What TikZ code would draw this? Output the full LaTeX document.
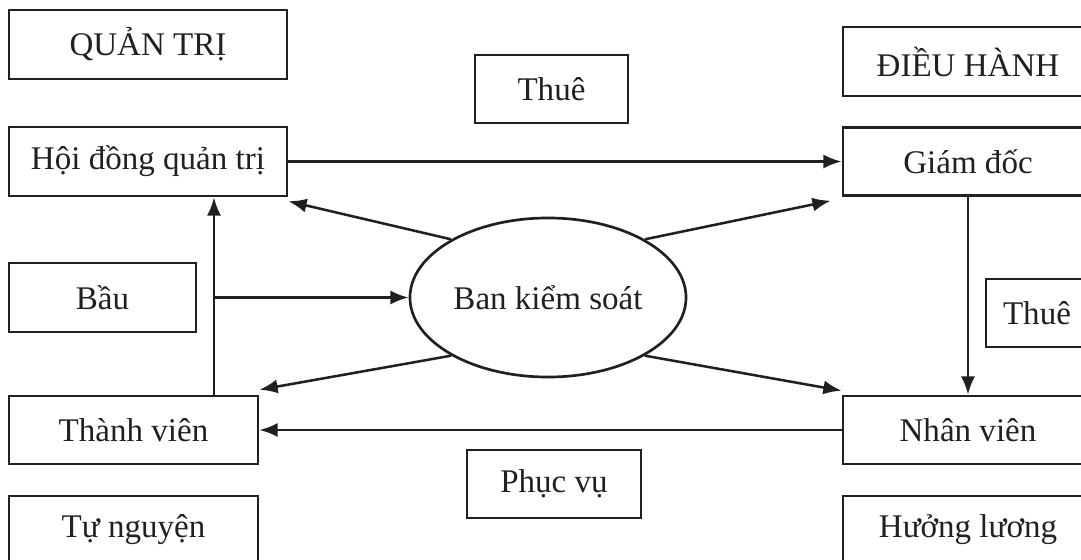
\documentclass[tikz,border=0pt]{standalone}
\usepackage{fontspec}
\setmainfont{Liberation Serif}
\usetikzlibrary{shapes.geometric,arrows.meta}
\definecolor{ink}{HTML}{231F20}

\begin{document}
\begin{tikzpicture}[x=0.025cm,y=-0.025cm,
  every node/.style={font=\fontsize{23.5}{28}\selectfont,text=ink},
  box/.style={shape=rectangle,draw=ink,line width=1.9pt,minimum height=1.7cm,inner sep=0pt},
  oval/.style={shape=ellipse,draw=ink,line width=1.9pt,minimum width=6.9cm,minimum height=3.975cm,inner sep=0pt},
  link/.style={draw=ink,line width=1.8pt,-{Latex[length=13pt,width=10pt]}}]
\clip (0,0) rectangle (1081,560);

\node[box,minimum width=6.95cm,minimum height=1.725cm] (quantri) at (148,44.5) {QUẢN TRỊ};
\node[box,minimum width=6.95cm,minimum height=1.725cm] (hdqt) at (148,161.5) {Hội đồng quản trị};
\node[box,minimum width=3.825cm] (thuetren) at (551.5,89) {Thuê};
\node[box,minimum width=6.25cm,minimum height=1.725cm] (dieuhanh) at (968,61.5) {ĐIỀU HÀNH};
\node[box,minimum width=6.25cm] (giamdoc) at (968,161.5) {Giám đốc};
\node[box,minimum width=4.675cm,minimum height=1.725cm] (bau) at (102.5,297.5) {Bầu};
\node[oval] (bks) at (548,297.5) {Ban kiểm soát};
\node[box,minimum width=2.55cm] (thuephai) at (1037,313) {Thuê};
\node[box,minimum width=6.225cm] (thanhvien) at (133.5,430) {Thành viên};
\node[box,minimum width=6.25cm] (nhanvien) at (968,430) {Nhân viên};
\node[box,minimum width=4.35cm] (phucvu) at (554,484) {Phục vụ};
\node[box,minimum width=6.225cm] (tunguyen) at (133.5,530) {Tự nguyện};
\node[box,minimum width=6.25cm] (huongluong) at (968,530) {Hưởng lương};

\coordinate (cot) at (214,0);
\coordinate (re) at (214,297.5);

\path (hdqt) edge[link] (giamdoc);
\path (giamdoc) edge[link] (nhanvien);
\path (nhanvien) edge[link] (thanhvien);
\path (thanhvien.north -| cot) edge[link] (hdqt.south -| cot);
\path (re) edge[link] (bks);
\path (bks.149) edge[link] ([yshift=-2.8pt]hdqt.south east);
\path (bks.31) edge[link] ([xshift=-7.8pt,yshift=-2.8pt]giamdoc.south west);
\path (bks.211) edge[link] ([yshift=3.5pt]thanhvien.north east);
\path (bks.329) edge[link] ([yshift=2.8pt]nhanvien.north west);
\end{tikzpicture}
\end{document}
